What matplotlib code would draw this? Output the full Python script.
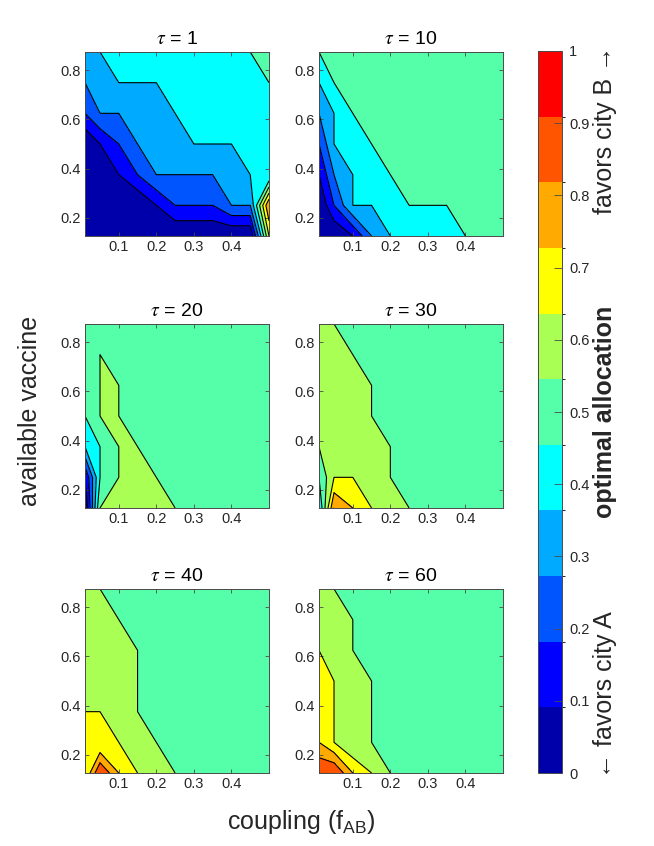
import numpy as np
import matplotlib
matplotlib.use('Agg')
import matplotlib.pyplot as plt
from matplotlib.colors import ListedColormap, BoundaryNorm
from matplotlib.cm import ScalarMappable
from matplotlib.ticker import FormatStrFormatter

plt.rcParams['font.family'] = ['Liberation Sans', 'DejaVu Sans']
plt.rcParams['mathtext.fontset'] = 'custom'
plt.rcParams['mathtext.rm'] = 'Liberation Sans'

# ---------------- data ----------------
coupling = [0.01, 0.05, 0.10, 0.15, 0.20, 0.25, 0.30, 0.35, 0.40, 0.45, 0.50]
vaccine = [0.125, 0.25, 0.375, 0.5, 0.625, 0.75, 0.875]
taus = [1, 10, 20, 30, 40, 60]

# rows: vaccine from 0.125 (first) to 0.875 (last); columns: coupling
alloc_tau1 = [
    [0.0, 0.0, 0.0, 0.0, 0.0, 0.0, 0.0, 0.0, 0.0, 0.0, 0.7],
    [0.0, 0.0, 0.0, 0.0, 0.1, 0.2, 0.2, 0.2, 0.3, 0.3, 0.9],
    [0.0, 0.0, 0.1, 0.2, 0.3, 0.3, 0.3, 0.3, 0.3, 0.4, 0.4],
    [0.0, 0.1, 0.2, 0.3, 0.3, 0.3, 0.4, 0.4, 0.4, 0.4, 0.4],
    [0.2, 0.3, 0.3, 0.3, 0.3, 0.4, 0.4, 0.4, 0.4, 0.4, 0.4],
    [0.3, 0.3, 0.4, 0.4, 0.4, 0.4, 0.4, 0.4, 0.4, 0.4, 0.5],
    [0.3, 0.4, 0.4, 0.4, 0.4, 0.4, 0.4, 0.4, 0.4, 0.5, 0.5],
]
alloc_tau10 = [
    [0.0, 0.0, 0.1, 0.3, 0.4, 0.4, 0.4, 0.4, 0.5, 0.5, 0.5],
    [0.0, 0.2, 0.4, 0.4, 0.4, 0.5, 0.5, 0.5, 0.5, 0.5, 0.5],
    [0.1, 0.3, 0.4, 0.4, 0.5, 0.5, 0.5, 0.5, 0.5, 0.5, 0.5],
    [0.2, 0.4, 0.4, 0.5, 0.5, 0.5, 0.5, 0.5, 0.5, 0.5, 0.5],
    [0.3, 0.4, 0.5, 0.5, 0.5, 0.5, 0.5, 0.5, 0.5, 0.5, 0.5],
    [0.4, 0.5, 0.5, 0.5, 0.5, 0.5, 0.5, 0.5, 0.5, 0.5, 0.5],
    [0.5, 0.5, 0.5, 0.5, 0.5, 0.5, 0.5, 0.5, 0.5, 0.5, 0.5],
]
alloc_tau20 = [
    [0.0, 0.6, 0.6, 0.6, 0.6, 0.6, 0.5, 0.5, 0.5, 0.5, 0.5],
    [0.1, 0.5, 0.6, 0.6, 0.6, 0.5, 0.5, 0.5, 0.5, 0.5, 0.5],
    [0.4, 0.5, 0.6, 0.6, 0.5, 0.5, 0.5, 0.5, 0.5, 0.5, 0.5],
    [0.5, 0.6, 0.6, 0.5, 0.5, 0.5, 0.5, 0.5, 0.5, 0.5, 0.5],
    [0.5, 0.6, 0.6, 0.5, 0.5, 0.5, 0.5, 0.5, 0.5, 0.5, 0.5],
    [0.5, 0.6, 0.5, 0.5, 0.5, 0.5, 0.5, 0.5, 0.5, 0.5, 0.5],
    [0.5, 0.5, 0.5, 0.5, 0.5, 0.5, 0.5, 0.5, 0.5, 0.5, 0.5],
]
alloc_tau30 = [
    [0.4, 0.9, 0.8, 0.7, 0.6, 0.6, 0.5, 0.5, 0.5, 0.5, 0.5],
    [0.5, 0.7, 0.7, 0.6, 0.6, 0.5, 0.5, 0.5, 0.5, 0.5, 0.5],
    [0.6, 0.6, 0.6, 0.6, 0.6, 0.5, 0.5, 0.5, 0.5, 0.5, 0.5],
    [0.6, 0.6, 0.6, 0.6, 0.5, 0.5, 0.5, 0.5, 0.5, 0.5, 0.5],
    [0.6, 0.6, 0.6, 0.6, 0.5, 0.5, 0.5, 0.5, 0.5, 0.5, 0.5],
    [0.6, 0.6, 0.6, 0.5, 0.5, 0.5, 0.5, 0.5, 0.5, 0.5, 0.5],
    [0.6, 0.6, 0.5, 0.5, 0.5, 0.5, 0.5, 0.5, 0.5, 0.5, 0.5],
]
alloc_tau40 = [
    [0.7, 1.0, 0.8, 0.7, 0.6, 0.6, 0.5, 0.5, 0.5, 0.5, 0.5],
    [0.7, 0.7, 0.7, 0.6, 0.6, 0.5, 0.5, 0.5, 0.5, 0.5, 0.5],
    [0.7, 0.7, 0.6, 0.6, 0.5, 0.5, 0.5, 0.5, 0.5, 0.5, 0.5],
    [0.6, 0.6, 0.6, 0.6, 0.5, 0.5, 0.5, 0.5, 0.5, 0.5, 0.5],
    [0.6, 0.6, 0.6, 0.6, 0.5, 0.5, 0.5, 0.5, 0.5, 0.5, 0.5],
    [0.6, 0.6, 0.6, 0.5, 0.5, 0.5, 0.5, 0.5, 0.5, 0.5, 0.5],
    [0.6, 0.6, 0.5, 0.5, 0.5, 0.5, 0.5, 0.5, 0.5, 0.5, 0.5],
]
alloc_tau60 = [
    [1.0, 1.0, 0.8, 0.7, 0.6, 0.5, 0.5, 0.5, 0.5, 0.5, 0.5],
    [0.8, 0.7, 0.6, 0.6, 0.5, 0.5, 0.5, 0.5, 0.5, 0.5, 0.5],
    [0.7, 0.7, 0.6, 0.6, 0.5, 0.5, 0.5, 0.5, 0.5, 0.5, 0.5],
    [0.7, 0.7, 0.6, 0.6, 0.5, 0.5, 0.5, 0.5, 0.5, 0.5, 0.5],
    [0.7, 0.6, 0.6, 0.5, 0.5, 0.5, 0.5, 0.5, 0.5, 0.5, 0.5],
    [0.6, 0.6, 0.6, 0.5, 0.5, 0.5, 0.5, 0.5, 0.5, 0.5, 0.5],
    [0.6, 0.6, 0.5, 0.5, 0.5, 0.5, 0.5, 0.5, 0.5, 0.5, 0.5],
]
allocations = [alloc_tau1, alloc_tau10, alloc_tau20, alloc_tau30, alloc_tau40, alloc_tau60]

x_ticks = [0.1, 0.2, 0.3, 0.4]
y_ticks = [0.2, 0.4, 0.6, 0.8]
cbar_ticks = [0, 0.1, 0.2, 0.3, 0.4, 0.5, 0.6, 0.7, 0.8, 0.9, 1.0]

# ---------------- style ----------------
jet11 = [(0, 0, 2/3), (0, 0, 1), (0, 1/3, 1), (0, 2/3, 1), (0, 1, 1),
         (1/3, 1, 2/3), (2/3, 1, 1/3), (1, 1, 0), (1, 2/3, 0), (1, 1/3, 0), (1, 0, 0)]
eps = 1e-6
levels = list(np.array(cbar_ticks) - eps) + [1.0 + eps]
txt = '#262626'
edge = '#4a4a4a'

W, H = 654, 846
fig = plt.figure(figsize=(W / 100, H / 100), dpi=100)


def px_axes(l, t, r, b):
    return fig.add_axes([l / W, 1 - b / H, (r - l) / W, (b - t) / H])


positions = [(85, 52, 269, 236), (319, 52, 503, 236),
             (85, 324, 269, 508), (319, 324, 503, 508),
             (85, 589, 269, 773), (319, 589, 503, 773)]

X, Y = np.meshgrid(coupling, vaccine)
for tau, Z, pos in zip(taus, allocations, positions):
    ax = px_axes(*pos)
    Z = np.array(Z)
    ax.contourf(X, Y, Z, levels=levels, colors=jet11)
    ax.contour(X, Y, Z, levels=levels[1:], colors='k', linewidths=0.8)
    ax.set_xlim(coupling[0], coupling[-1])
    ax.set_ylim(vaccine[0], vaccine[-1])
    ax.set_xticks(x_ticks)
    ax.set_yticks(y_ticks)
    ax.xaxis.set_major_formatter(FormatStrFormatter('%g'))
    ax.yaxis.set_major_formatter(FormatStrFormatter('%g'))
    ax.tick_params(direction='in', top=True, right=True, length=3, width=0.6,
                   labelsize=10.5, colors=edge, labelcolor=txt, pad=3)
    for s in ax.spines.values():
        s.set_edgecolor(edge)
        s.set_linewidth(0.7)
    ax.set_title(r'$\tau$ = %d' % tau, fontsize=14, pad=6, color='k',
                 math_fontfamily='stix')

# colorbar
cax = px_axes(538, 51, 562, 773)
cmap = ListedColormap(jet11)
norm = BoundaryNorm(np.linspace(0, 1, 12), 11)
cb = fig.colorbar(ScalarMappable(norm=norm, cmap=cmap), cax=cax, ticks=cbar_ticks)
cb.ax.yaxis.set_major_formatter(FormatStrFormatter('%g'))
cb.ax.tick_params(direction='in', length=6, width=0.6, labelsize=10.5,
                  colors=edge, labelcolor=txt, pad=5)
cb.outline.set_edgecolor(edge)
cb.outline.set_linewidth(0.7)

fs = 18
fig.text(605 / W, 1 - 130 / H, 'favors city B \u2192', rotation=90, ha='center',
         va='center', fontsize=fs, color=txt)
fig.text(605 / W, 1 - 412 / H, 'optimal allocation', rotation=90, ha='center',
         va='center', fontsize=fs, fontweight='bold', color=txt)
fig.text(605 / W, 1 - 695 / H, '\u2190 favors city A', rotation=90, ha='center',
         va='center', fontsize=fs, color=txt)
fig.text(30 / W, 1 - 411 / H, 'available vaccine', rotation=90, ha='center',
         va='center', fontsize=fs, color=txt)
fig.text(301 / W, 1 - 822 / H, r'coupling ($\mathregular{f_{AB}}$)', ha='center',
         va='center', fontsize=fs, color=txt)

fig.savefig('out.png', dpi=100)
